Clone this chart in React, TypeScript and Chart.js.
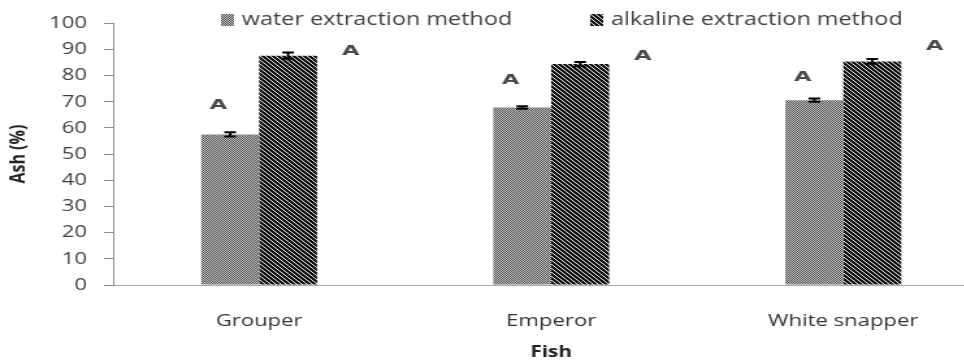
import React, { useEffect, useRef } from "react";
import { Chart, registerables } from "chart.js";

Chart.register(...registerables);

const categories = ["Grouper", "Emperor", "White snapper"];
const seriesNames = ["water extraction method", "alkaline extraction method"];
const waterValues = [57.5, 67.8, 70.6];
const alkalineValues = [87.6, 84.4, 85.4];
const waterErrors = [0.8, 0.5, 0.6];
const alkalineErrors = [1.2, 0.8, 0.9];
const waterLetters = ["A", "A", "A"];
const alkalineLetters = ["A", "A", "A"];
const waterLetterHeights = [68.7, 78.1, 79.2];
const alkalineLetterHeights = [89.4, 87.5, 91.3];
const yTicks = [0, 10, 20, 30, 40, 50, 60, 70, 80, 90, 100];

const STRETCH = 1.3;
const INNER_W = 770;
const H = 364;

function makeWaterPattern(): CanvasPattern | string {
  const c = document.createElement("canvas");
  c.width = 2;
  c.height = 2;
  const g = c.getContext("2d");
  if (!g) return "#888";
  g.fillStyle = "#c8c8c8";
  g.fillRect(0, 0, 2, 2);
  g.fillStyle = "#4c4c4c";
  g.fillRect(0, 0, 1, 1);
  g.fillRect(1, 1, 1, 1);
  return g.createPattern(c, "repeat") || "#888";
}

function makeAlkalinePattern(): CanvasPattern | string {
  const c = document.createElement("canvas");
  c.width = 4;
  c.height = 4;
  const g = c.getContext("2d");
  if (!g) return "#222";
  g.fillStyle = "#141414";
  g.fillRect(0, 0, 4, 4);
  g.fillStyle = "#e8e8e8";
  for (let i = 0; i < 4; i++) g.fillRect(i, i, 1, 1);
  return g.createPattern(c, "repeat") || "#222";
}

export default function App() {
  const ref = useRef<HTMLCanvasElement | null>(null);

  useEffect(() => {
    if (!ref.current) return;
    const waterFill = makeWaterPattern();
    const alkFill = makeAlkalinePattern();
    const errors = [waterErrors, alkalineErrors];
    const letters = [waterLetters, alkalineLetters];
    const letterHeights = [waterLetterHeights, alkalineLetterHeights];
    const letterOffsets = [-0.2, 1.08];

    const overlay = {
      id: "overlay",
      afterDatasetsDraw(chart: any) {
        const ctx = chart.ctx;
        const y = chart.scales.y;
        ctx.save();
        // error bars
        ctx.strokeStyle = "#000";
        ctx.lineWidth = 2;
        chart.data.datasets.forEach((ds: any, i: number) => {
          const meta = chart.getDatasetMeta(i);
          meta.data.forEach((el: any, j: number) => {
            const v = ds.data[j];
            const e = errors[i][j];
            const yt = y.getPixelForValue(v + e);
            const yb = y.getPixelForValue(v - e);
            ctx.beginPath();
            ctx.moveTo(el.x, yt);
            ctx.lineTo(el.x, yb);
            ctx.moveTo(el.x - 4.5, yt);
            ctx.lineTo(el.x + 4.5, yt);
            ctx.moveTo(el.x - 4.5, yb);
            ctx.lineTo(el.x + 4.5, yb);
            ctx.stroke();
          });
        });
        // letters
        ctx.fillStyle = "#4a4a4a";
        ctx.font = "bold 14px 'DejaVu Sans'";
        ctx.textAlign = "center";
        ctx.textBaseline = "middle";
        chart.data.datasets.forEach((ds: any, i: number) => {
          const meta = chart.getDatasetMeta(i);
          meta.data.forEach((el: any, j: number) => {
            const lx = el.x + letterOffsets[i] * el.width;
            const ly = y.getPixelForValue(letterHeights[i][j]);
            ctx.save();
            ctx.translate(lx, ly);
            ctx.scale(1.25, 1.05);
            ctx.fillText(letters[i][j], 0, 0);
            ctx.restore();
          });
        });
        // legend
        const items = [
          { x: 170, fill: waterFill, text: seriesNames[0] },
          { x: 454, fill: alkFill, text: seriesNames[1] },
        ];
        ctx.font = "18px 'Open Sans'";
        ctx.textAlign = "left";
        ctx.textBaseline = "middle";
        items.forEach((it) => {
          ctx.fillStyle = it.fill as any;
          ctx.fillRect(it.x, 14, 10, 12);
          ctx.fillStyle = "#404040";
          ctx.fillText(it.text, it.x + 16, 20);
        });
        ctx.restore();
      },
    };

    const chart = new Chart(ref.current, {
      type: "bar",
      data: {
        labels: categories,
        datasets: [
          {
            label: seriesNames[0],
            data: waterValues,
            backgroundColor: waterFill as any,
            borderWidth: 0,
            categoryPercentage: 0.397,
            barPercentage: 1,
          },
          {
            label: seriesNames[1],
            data: alkalineValues,
            backgroundColor: alkFill as any,
            borderWidth: 0,
            categoryPercentage: 0.397,
            barPercentage: 1,
          },
        ],
      },
      options: {
        animation: false,
        responsive: false,
        maintainAspectRatio: false,
        devicePixelRatio: 1,
        layout: { padding: { top: 20, right: 9, left: 0, bottom: 0 } },
        plugins: {
          legend: { display: false },
          tooltip: { enabled: false },
        },
        scales: {
          x: {
            type: "category",
            offset: true,
            grid: { display: false, drawTicks: false },
            border: { display: true, color: "#a8a8a8", width: 1 },
            ticks: {
              color: "#333",
              font: { family: "'Open Sans'", size: 17 },
              padding: 26,
              maxRotation: 0,
            },
            title: {
              display: true,
              text: "Fish",
              color: "#222",
              font: { family: "'Open Sans'", size: 16, weight: "bold" },
              padding: { top: 0, bottom: 2 },
            },
            afterFit: (s: any) => {
              s.height = H - 285;
            },
          },
          y: {
            min: 0,
            max: 100,
            afterBuildTicks: (s: any) => {
              s.ticks = yTicks.map((v) => ({ value: v }));
            },
            grid: {
              display: true,
              drawOnChartArea: false,
              drawTicks: true,
              tickLength: 7,
              color: "#8a8a8a",
            },
            border: { display: true, color: "#8a8a8a", width: 1 },
            ticks: {
              color: "#404040",
              font: { family: "'Open Sans'", size: 17 },
              padding: 13,
            },
            title: {
              display: true,
              text: "Ash (%)",
              color: "#222",
              font: { family: "'Open Sans'", size: 16, weight: "bold" },
              padding: { top: 5, bottom: 0 },
            },
            afterFit: (s: any) => {
              s.width = 87;
            },
          },
        },
      },
      plugins: [overlay],
    });
    return () => chart.destroy();
  }, []);

  return (
    <div
      style={{
        position: "fixed",
        left: 0,
        top: 0,
        width: 964,
        height: H,
        overflow: "hidden",
        background: "#fff",
      }}
    >
      <div
        style={{
          width: INNER_W,
          height: H,
          transform: `scaleX(${STRETCH})`,
          transformOrigin: "0 0",
        }}
      >
        <canvas
          ref={ref}
          width={INNER_W}
          height={H}
          style={{ width: `${INNER_W}px`, height: `${H}px`, display: "block" }}
        />
      </div>
    </div>
  );
}
